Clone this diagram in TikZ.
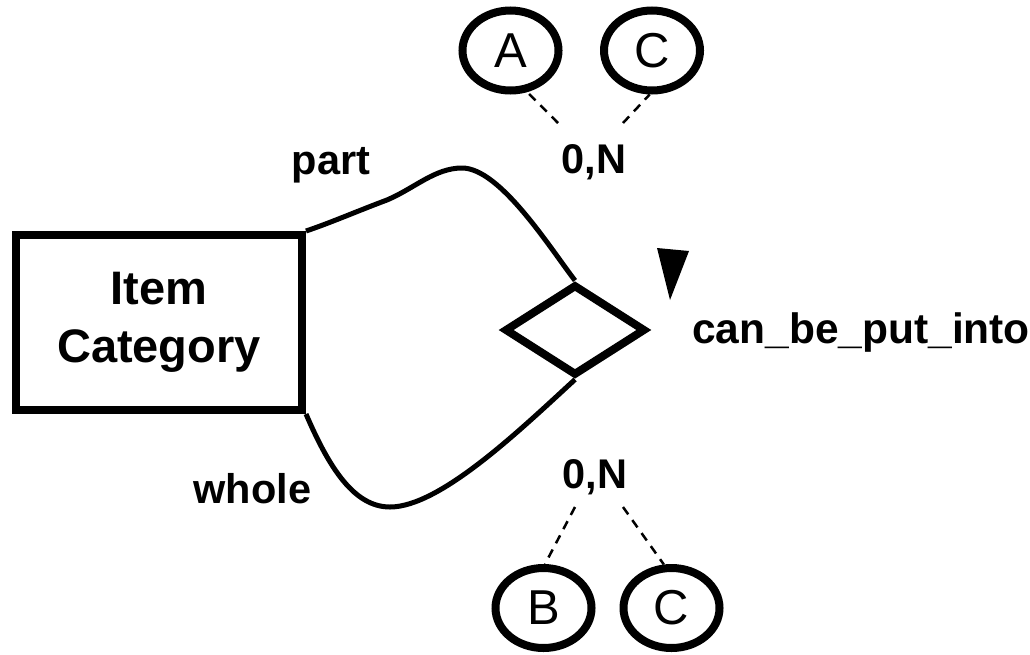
\documentclass[tikz,border=0pt]{standalone}
\usepackage{fontspec}
\setmainfont{Liberation Sans}
\usetikzlibrary{shapes.geometric,positioning}

\tikzset{
	entity/.style={draw, rectangle, line width=8pt, minimum width=286pt, minimum height=175pt, align=center, font=\fontsize{47}{58}\selectfont\bfseries},
	relship/.style={draw, diamond, line width=8pt, minimum width=141pt, minimum height=91pt, inner sep=0pt},
	attr/.style={draw, ellipse, line width=8pt, minimum width=96pt, minimum height=80pt, inner sep=0pt, font=\fontsize{49}{49}\selectfont},
	lbl/.style={anchor=base, inner sep=0pt, font=\fontsize{41.5}{41.5}\selectfont\bfseries},
	link/.style={line width=5pt},
	card/.style={dashed, line width=2.5pt, dash pattern=on 9pt off 7pt}
}

\begin{document}
\begin{tikzpicture}[x=1pt, y=-1pt]
	\useasboundingbox (0,0) rectangle (1030,654);

	\node[entity] (cat) at (159,322.5) {Item\\Category};
	\node[relship] (rel) at (575,330) {};
	\node[lbl, anchor=base west, font=\fontsize{42.5}{42.5}\selectfont\bfseries] (relname) at (692,343) {can\_be\_put\_into};

	\node[attr] (a1) at (510.5,50.5) {A};
	\node[attr] (c1) at (652,50.5) {C};
	\node[attr] (b2) at (543.5,608) {B};
	\node[attr] (c2) at (671.5,608) {C};

	\node[lbl] (part) at (331,174) {part};
	\node[lbl] (whole) at (252.5,503) {whole};
	\node[lbl] (top) at (594,173) {0,N};
	\node[lbl] (bot) at (595,488) {0,N};

	% role lines
	\draw[link] (cat.north east) .. controls (330,223) and (360,210) .. (387,200)
		.. controls (415,188) and (435,168) .. (462,168)
		.. controls (500,168) and (550,248) .. (rel.north);
	\draw[link] (cat.south east) .. controls (330,470) and (355,507) .. (390,507)
		.. controls (440,507) and (520,430) .. (rel.south);

	% cardinality hints
	\coordinate (ta) at (558,123);
	\coordinate (tc) at (623,123);
	\coordinate (bb) at (575,507);
	\coordinate (bc) at (623,507);
	\draw[card] (ta) -- (a1.-68);
	\draw[card] (tc) -- (c1.-93);
	\draw[card] (bb) -- (b2.88);
	\draw[card] (bc) -- (c2.100);

	\fill (657,248) -- (689,251) -- (670,300) -- cycle;
\end{tikzpicture}
\end{document}
